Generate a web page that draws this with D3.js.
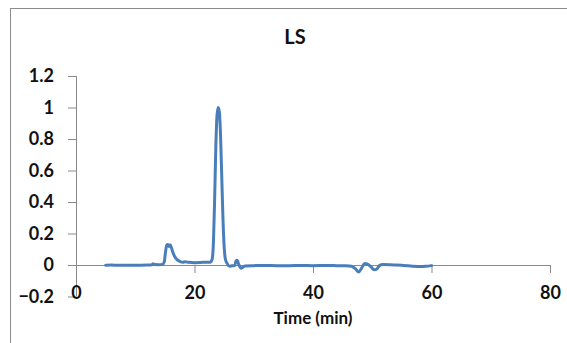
<!DOCTYPE html>
<html>
<head>
<meta charset="utf-8">
<script src="https://cdn.jsdelivr.net/npm/d3@7"></script>
<style>
  html, body { margin: 0; padding: 0; background: #fff; }
  svg { display: block; }
  text { font-family: Lato, "Open Sans", sans-serif; font-weight: bold; fill: #111; }
</style>
</head>
<body>
<script>
// Light-scattering trace (normalised) against elution time
const chartTitle = "LS";
const xAxisTitle = "Time (min)";
const xTicks = [0, 20, 40, 60, 80];
const yTicks = [-0.2, 0, 0.2, 0.4, 0.6, 0.8, 1, 1.2];

const timeMin = [
  5, 6, 7, 8, 9, 10, 11, 12, 12.8, 13, 13.3, 14, 14.6, 14.9, 15.1, 15.3, 15.5, 15.7, 15.9, 16.1,
  16.4, 16.8, 17.2, 17.6, 18, 18.4, 19, 20, 21, 22, 22.7, 23.0, 23.2, 23.4, 23.6, 23.8, 24.0, 24.2,
  24.4, 24.6, 24.8, 25.0, 25.2, 25.5, 25.9, 26.3, 26.8, 27.0, 27.2, 27.5, 27.9, 28.5, 30, 32, 34,
  36, 38, 40, 42, 44, 45.5, 46.5, 47.2, 47.7, 48.2, 48.7, 49.2, 49.8, 50.3, 50.7, 51.2, 51.8,
  53, 54, 55, 56, 57, 58, 59, 60
];
const lsSignal = [
  -0.001, 0.0, -0.002, -0.001, -0.002, -0.001, -0.001, 0.0, 0.002, 0.008, 0.003, 0.002, 0.004, 0.02, 0.08, 0.125, 0.13, 0.118, 0.128, 0.11,
  0.075, 0.045, 0.03, 0.022, 0.018, 0.02, 0.017, 0.015, 0.016, 0.018, 0.018, 0.04, 0.15, 0.42, 0.75, 0.95, 1.0, 0.97,
  0.82, 0.56, 0.3, 0.12, 0.04, 0.01, -0.008, -0.005, -0.003, 0.025, 0.03, 0.0, -0.02, -0.006, -0.004, -0.003, -0.004,
  -0.004, -0.003, -0.004, -0.003, -0.004, -0.005, -0.008, -0.025, -0.045, -0.02, 0.01, 0.005, -0.012, -0.03, -0.028, -0.004, 0.003,
  0.002, 0.0, -0.002, -0.004, -0.008, -0.01, -0.008, -0.004
];

const W = 567, H = 343;
const svg = d3.select("body").append("svg").attr("width", W).attr("height", H);

// outer chart frame (continues past the right and bottom edges)
svg.append("rect")
  .attr("x", 10.5).attr("y", 8.5)
  .attr("width", W + 20).attr("height", H + 20)
  .attr("fill", "none").attr("stroke", "#8c8c8c").attr("stroke-width", 1);

const x = d3.scaleLinear().domain([0, 80]).range([76, 550]);
const y = d3.scaleLinear().domain([-0.2, 1.2]).range([296.5, 76]);

const axisColor = "#8a8a8a";

// y axis on the left edge of the plot
const yAxis = svg.append("g")
  .attr("transform", `translate(${x(0)},0)`)
  .call(d3.axisLeft(y).tickValues(yTicks).tickSize(8).tickPadding(14)
    .tickFormat(d => d3.format("")(+d.toFixed(1))));
yAxis.select(".domain").attr("stroke", axisColor).attr("d", `M0.5,${y(1.2)}V${y(-0.2)}`);
yAxis.selectAll(".tick line").attr("stroke", axisColor);
yAxis.selectAll(".tick text").style("font-size", "18px").attr("fill", "#111");

// x axis drawn through y = 0
const xAxis = svg.append("g")
  .attr("transform", `translate(0,${y(0)})`)
  .call(d3.axisBottom(x).tickValues(xTicks).tickSize(8).tickPadding(13));
xAxis.select(".domain").attr("stroke", axisColor).attr("d", `M${x(0)},0.5H${x(80)}`);
xAxis.selectAll(".tick line").attr("stroke", axisColor);
xAxis.selectAll(".tick text").style("font-size", "18px").attr("fill", "#111");

// trace
const pts = timeMin.map((t, i) => [t, lsSignal[i]]);
svg.append("path")
  .datum(pts)
  .attr("fill", "none")
  .attr("stroke", "#4a7ebb")
  .attr("stroke-width", 3)
  .attr("stroke-linejoin", "round")
  .attr("stroke-linecap", "round")
  .attr("d", d3.line().x(d => x(d[0])).y(d => y(d[1])).curve(d3.curveMonotoneX));

svg.append("text")
  .attr("x", 295).attr("y", 44)
  .attr("text-anchor", "middle")
  .style("font-size", "20px")
  .text(chartTitle);

svg.append("text")
  .attr("x", 313).attr("y", 324)
  .attr("text-anchor", "middle")
  .style("font-size", "17px")
  .text(xAxisTitle);
</script>
</body>
</html>
